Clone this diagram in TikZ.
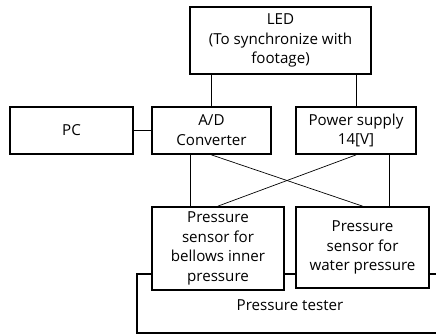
\documentclass[tikz,border=0pt]{standalone}
\usepackage{fontspec}
\setmainfont{Open Sans}
\tikzset{
  blk/.style={draw, line width=1.8pt, fill=white, align=center, inner sep=0pt},
  wire/.style={line width=0.7pt},
}
\begin{document}
\begin{tikzpicture}[x=1bp, y=-1bp, every node/.style={font=\fontsize{15.2}{19.8}\selectfont}]
  \useasboundingbox (0,0) rectangle (436,335);
  % Tester frame (runs past the right edge)
  \draw[line width=1.8pt] (437,274) -- (137,274) -- (137,333) -- (437,333);
  \node (tester) at (290,305) {Pressure tester};

  % Boxes
  \node[blk, minimum width=181bp, minimum height=67bp] (led) at (280.5,40.5)
       {LED\\(To synchronize with\\footage)};
  \node[blk, minimum width=123bp, minimum height=47bp] (pc) at (71.5,130.5) {PC};
  \node[blk, minimum width=119bp, minimum height=47bp] (adc) at (211.5,130.5)
       {A/D\\Converter};
  \node[blk, minimum width=120bp, minimum height=47bp] (power) at (356,130.5)
       {Power supply\\14[V]};
  \node[blk, minimum width=132bp, minimum height=83bp] (sensbel) at (218,248.5)
       {Pressure\\sensor for\\bellows inner\\pressure};
  \node[blk, minimum width=133bp, minimum height=81bp] (senswat) at (362.5,247.5)
       {Pressure\\sensor for\\water pressure};

  % Wires
  \draw[wire] (pc.east) -- (adc.west);
  \draw[wire] (adc.north) -- (adc.north |- led.south);
  \draw[wire] (power.north) -- (power.north |- led.south);
  \draw[wire] ([xshift=-21.5bp]adc.south) -- ([xshift=-21.5bp]adc.south |- sensbel.north);
  \draw[wire] ([xshift=33bp]power.south) -- ([xshift=33bp]power.south |- senswat.north);
  \draw[wire] (adc.south) -- (senswat.north);
  \draw[wire] (power.south) -- (sensbel.north);
\end{tikzpicture}
\end{document}
